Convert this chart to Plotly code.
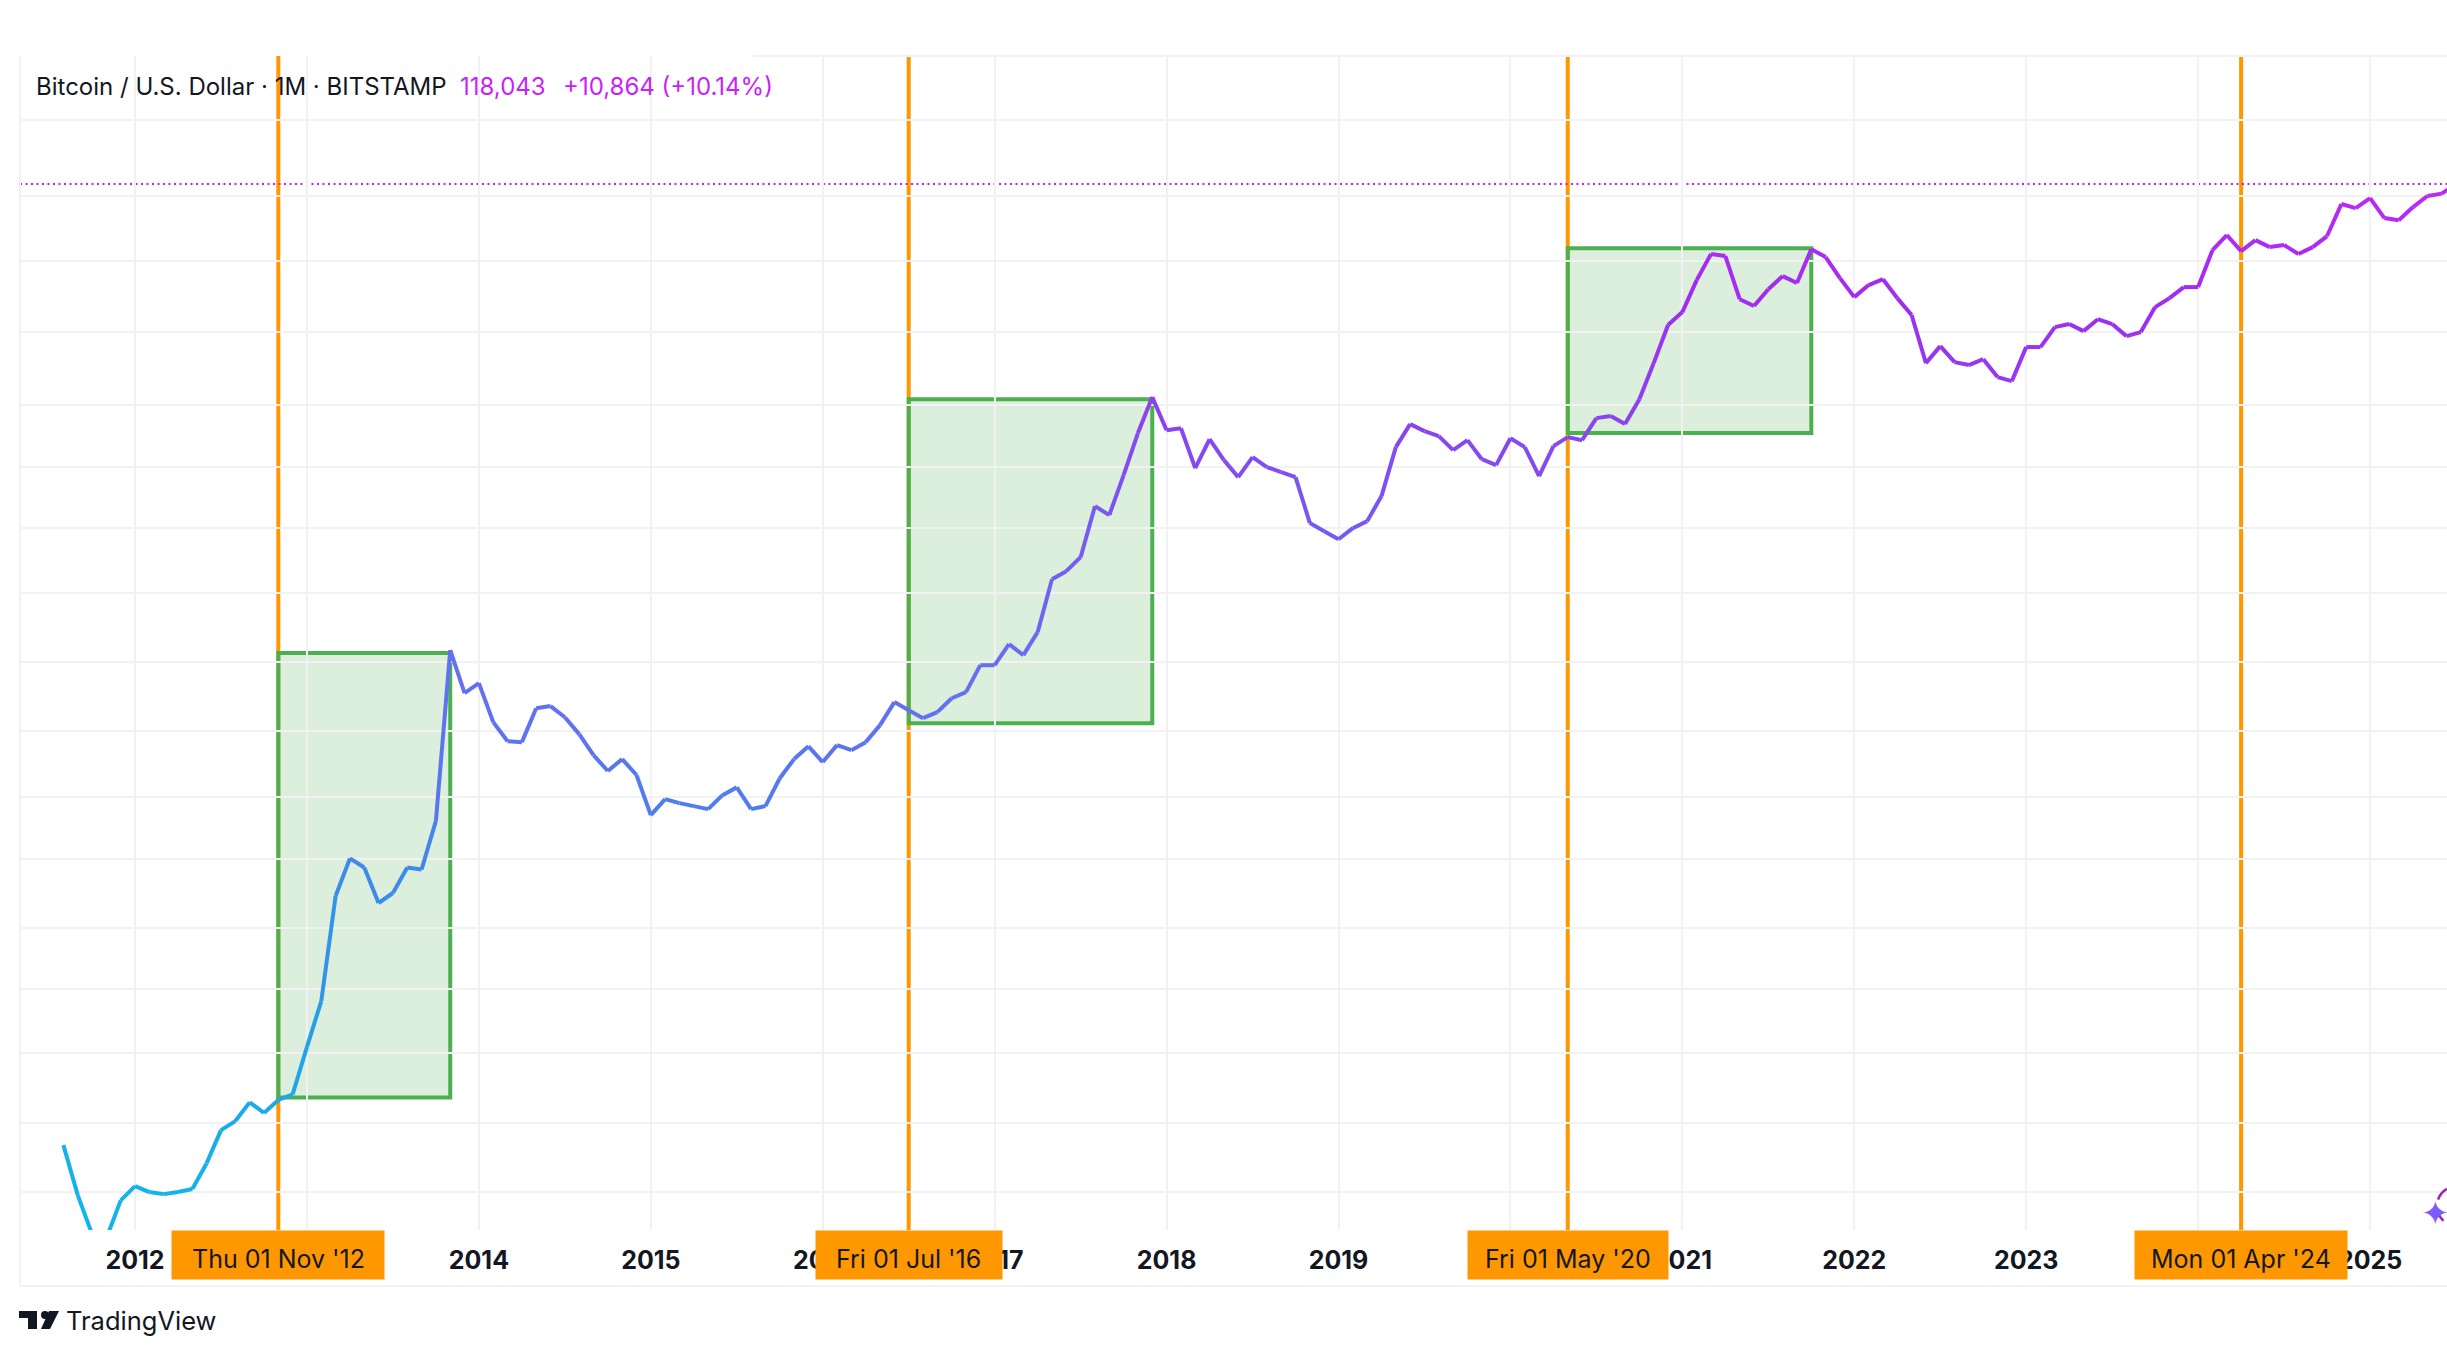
import numpy as np
import pandas as pd
import plotly.graph_objects as go

# monthly closes (USD, log scale)
closes_2011 = [7.82, 4.74, 3.21, 3.08, 4.50]
closes_2012 = [5.19, 4.89, 4.79, 4.89, 5.04, 6.53, 9.09, 9.95, 12.0, 10.8, 12.3, 13.0]
closes_2013 = [20.9, 33.1, 94.7, 138, 126, 88.3, 97.6, 126, 123.5, 201, 1110, 722]
closes_2014 = [798, 540, 446, 442, 621, 634, 567, 479, 388, 331, 373, 318]
closes_2015 = [213, 250, 240, 233, 226, 260, 281, 226, 233, 308, 373, 424]
closes_2016 = [362, 429, 408, 442, 524, 660, 608, 562, 597, 686, 729, 955]
closes_2017 = [955, 1179, 1056, 1329, 2258, 2448, 2816, 4694, 4290, 6404, 9753, 13980]
closes_2018 = [10040, 10240, 6865, 9170, 7437, 6275, 7667, 6936, 6598, 6275, 3960, 3653]
closes_2019 = [3370, 3764, 4039, 5189, 8474, 10670, 9946, 9463, 8220, 9085, 7509, 7080]
closes_2020 = [9260, 8474, 6340, 8561, 9366, 9085, 11330, 11560, 10670, 13690, 19650, 28760]
closes_2021 = [32750, 45090, 58550, 57380, 37260, 34780, 41190, 46960, 43790, 61480, 56790, 46000]
closes_2022 = [38050, 42930, 45530, 37660, 31790, 19650, 23300, 19850, 19270, 20430, 17080, 16410]
closes_2023 = [23070, 23070, 28180, 29050, 27070, 30500, 29050, 25750, 26810, 34430, 37660, 42060]
closes_2024 = [42060, 60890, 70820, 60310, 67310, 62780, 64070, 58550, 62780, 70110, 96620, 92750]
closes_2025 = [102500, 83910, 82170, 93720, 104700, 107179, 118043]

closes = (closes_2011 + closes_2012 + closes_2013 + closes_2014 + closes_2015
          + closes_2016 + closes_2017 + closes_2018 + closes_2019 + closes_2020
          + closes_2021 + closes_2022 + closes_2023 + closes_2024 + closes_2025)
months = list(pd.date_range("2011-08-01", periods=len(closes), freq="MS").strftime("%Y-%m"))

years = [str(y) for y in range(2012, 2026)]
last_close = 118043

# price levels of the horizontal grid
grid_prices = [224000, 105000, 54600, 26800, 12900, 6940, 3765, 1965, 984, 493,
               255, 137, 68.7, 37.3, 19.7, 9.76, 4.89]

halving_months = ["2012-11", "2016-07", "2020-05", "2024-04"]
halving_labels = ["Thu 01 Nov '12", "Fri 01 Jul '16", "Fri 01 May '20", "Mon 01 Apr '24"]
halving_widths = [212, 186, 200, 212]

box_start = ["2012-11", "2016-07", "2020-05"]
box_end = ["2013-11", "2017-12", "2021-10"]
box_low = [12.6, 534, 9750]
box_high = [1078, 13700, 62100]

# line gradient follows price
color_prices = [4.5, 33, 150, 300, 1100, 5000, 10000, 37000, 100000]
color_r = [0x13, 0x2a, 0x42, 0x56, 0x6a, 0x7a, 0x8a, 0xa0, 0xb9]
color_g = [0xb4, 0x9c, 0x86, 0x78, 0x6c, 0x55, 0x45, 0x2c, 0x2a]
color_b = [0xea, 0xe8, 0xec, 0xee, 0xf0, 0xf0, 0xee, 0xf0, 0xf5]

ORANGE = "#ff9800"
GREEN = "#4caf50"
PURPLE = "#c81fff"
GRID = "#f2f2f2"
INK = "#131722"

# plot area inside the page, pixels
LEFT, RIGHT, TOP, BOTTOM = 20, 2447, 56, 1230


def px(x):
    return (x - LEFT) / (RIGHT - LEFT)


def py(y):
    return (BOTTOM - y) / (BOTTOM - TOP)


def line_color(price):
    lp = np.log10(price)
    stops = np.log10(color_prices)
    r = np.interp(lp, stops, color_r)
    g = np.interp(lp, stops, color_g)
    b = np.interp(lp, stops, color_b)
    return f"rgb({r:.0f},{g:.0f},{b:.0f})"


fig = go.Figure()

# one trace per month so the colour can change along the line
for i in range(len(closes) - 1):
    mid = (closes[i] * closes[i + 1]) ** 0.5
    fig.add_trace(go.Scatter(
        x=months[i:i + 2],
        y=closes[i:i + 2],
        mode="lines",
        line=dict(color=line_color(mid), width=4),
        showlegend=False,
        hoverinfo="skip",
    ))

shapes = []

for m in halving_months:
    shapes.append(dict(type="line", xref="x", yref="paper", x0=m, x1=m, y0=0, y1=1,
                       line=dict(color=ORANGE, width=4), layer="below"))

for s, e, lo, hi in zip(box_start, box_end, box_low, box_high):
    shapes.append(dict(type="rect", xref="x", yref="y", x0=s, x1=e, y0=lo, y1=hi,
                       line=dict(color=GREEN, width=4),
                       fillcolor="rgba(76,175,80,0.2)", layer="below"))

shapes.append(dict(type="line", xref="paper", yref="y", x0=0, x1=1,
                   y0=last_close, y1=last_close,
                   line=dict(color=PURPLE, width=2, dash="2px,3.5px"), layer="below"))

# frame
frame = dict(color=GRID, width=2)
shapes.append(dict(type="line", xref="paper", yref="paper", x0=0, x1=0, y0=py(1286), y1=1, line=frame))
shapes.append(dict(type="line", xref="paper", yref="paper", x0=0, x1=1, y0=py(1286), y1=py(1286), line=frame))
shapes.append(dict(type="line", xref="paper", yref="paper", x0=px(753), x1=1, y0=1, y1=1, line=frame))

# dashed ring around the sparkle, bottom right
shapes.append(dict(type="circle", xref="paper", yref="paper",
                   x0=px(2437), x1=px(2477), y0=py(1226), y1=py(1186),
                   line=dict(color="#9c27b0", width=2.5, dash="14px,9px")))

# TradingView logo
logo_paths = [
    "M 0 0 L 18 0 L 18 -18 L 9 -18 L 9 -7 L 0 -7 Z",
    "M 22 -18 L 31 -18 L 40 0 L 30 0 Z",
]
for path in logo_paths:
    shapes.append(dict(type="path", xref="paper", yref="paper", xsizemode="pixel", ysizemode="pixel",
                       xanchor=px(19), yanchor=py(1311), path=path,
                       fillcolor=INK, line=dict(width=0)))
shapes.append(dict(type="circle", xref="paper", yref="paper",
                   x0=px(41), x1=px(49), y0=py(1319), y1=py(1311),
                   fillcolor=INK, line=dict(width=0)))

annotations = []

for m, label, w in zip(halving_months, halving_labels, halving_widths):
    annotations.append(dict(x=m, xref="x", y=0, yref="paper", yanchor="top", xanchor="center",
                            text=" ", showarrow=False, width=w, height=48, borderpad=0,
                            bgcolor=ORANGE))
    annotations.append(dict(x=m, xref="x", y=py(1259), yref="paper", yanchor="middle", xanchor="center",
                            text=label, showarrow=False,
                            font=dict(family="Inter", size=25, color=INK)))


def page_text(x, y, text, color, size=24):
    annotations.append(dict(x=px(x), y=py(y), xref="paper", yref="paper", xanchor="left", yanchor="middle",
                            text=text, showarrow=False, font=dict(family="Inter", size=size, color=color)))


page_text(34, 86, "Bitcoin / U.S. Dollar · 1M · BITSTAMP", INK)
page_text(458, 86, "118,043", PURPLE)
page_text(561, 86, "+10,864 (+10.14%)", PURPLE)
page_text(64, 1320.5, "TradingView", INK, 25.5)
page_text(2419, 1212, "✦", "#7c5cfc", 34)

fig.update_layout(
    width=2447,
    height=1356,
    margin=dict(l=LEFT, r=0, t=TOP, b=1356 - BOTTOM, autoexpand=False),
    paper_bgcolor="white",
    plot_bgcolor="white",
    shapes=shapes,
    annotations=annotations,
    font=dict(family="Inter"),
)

fig.update_xaxes(
    type="category",
    categoryorder="array",
    categoryarray=months,
    range=[-3.03, 166.37],
    tickmode="array",
    tickvals=[y + "-01" for y in years],
    ticktext=years,
    showgrid=True,
    gridcolor=GRID,
    gridwidth=2,
    showline=False,
    zeroline=False,
    ticks="",
    ticklabelstandoff=13,
    tickangle=0,
    tickfont=dict(family="Inter", size=25, color=INK, weight=700),
)

fig.update_yaxes(
    type="log",
    range=[0.5243, 5.6286],
    tickmode="array",
    tickvals=grid_prices,
    showticklabels=False,
    showgrid=True,
    gridcolor=GRID,
    gridwidth=2,
    showline=False,
    zeroline=False,
    ticks="",
)

fig.write_html("out.html", config={"displayModeBar": False},
               post_script="document.body.style.margin='0';")
